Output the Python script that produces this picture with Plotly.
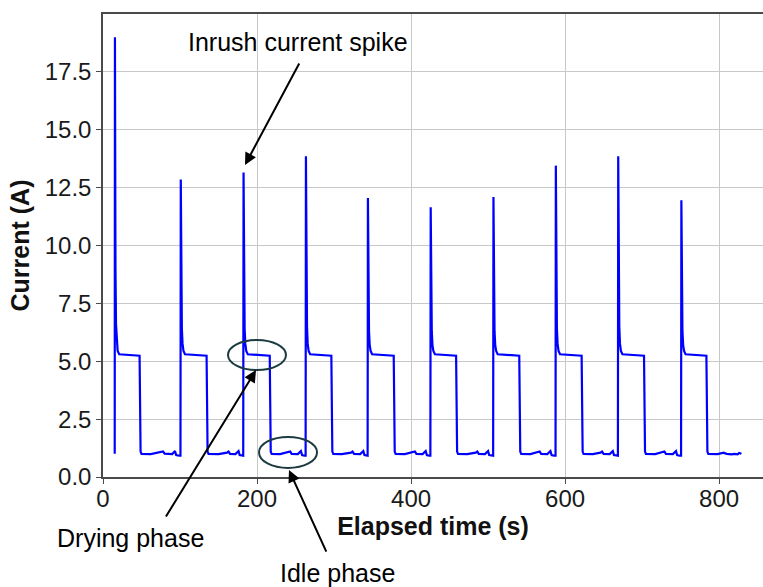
import plotly.graph_objects as go

# Data (time in s, current in A), one list per cycle
t_c1 = [15.2, 15.5, 16.2, 16.9, 17.8, 19.0, 21.0, 47.5, 48.8, 50.0, 62.0, 76.0, 78.0, 80.0, 90.0, 93.5, 95.0, 99.0, 100.6]
i_c1 = [1.0, 19.0, 9.0, 6.6, 5.8, 5.45, 5.3, 5.24, 1.1, 1.0, 0.99, 1.06, 1.1, 1.01, 0.99, 1.12, 0.95, 0.92, 0.92]
t_c2 = [101.0, 101.7, 102.4, 103.3, 104.5, 106.5, 134.5, 135.8, 137.0, 150.0, 161.0, 163.0, 165.0, 172.0, 176.0, 177.5, 180.5, 182.1]
i_c2 = [12.85, 8.4, 6.4, 5.75, 5.45, 5.3, 5.24, 1.1, 1.0, 0.99, 1.05, 1.1, 1.0, 0.99, 1.12, 0.95, 0.92, 0.92]
t_c3 = [182.5, 183.2, 183.9, 184.8, 186.0, 188.0, 216.5, 217.8, 219.0, 230.0, 241.0, 243.0, 245.0, 253.0, 257.0, 258.5, 261.5, 263.1]
i_c3 = [13.15, 8.5, 6.4, 5.75, 5.45, 5.3, 5.24, 1.1, 1.0, 0.99, 1.06, 1.1, 1.0, 0.99, 1.12, 0.95, 0.92, 0.92]
t_c4 = [263.5, 264.2, 264.9, 265.8, 267.0, 269.0, 296.5, 297.8, 299.0, 310.0, 322.0, 324.0, 326.0, 334.0, 338.0, 339.5, 342.5, 343.6]
i_c4 = [13.85, 8.7, 6.5, 5.75, 5.45, 5.3, 5.24, 1.1, 1.0, 0.99, 1.05, 1.1, 1.0, 0.99, 1.12, 0.95, 0.92, 0.92]
t_c5 = [344.0, 344.7, 345.4, 346.3, 347.5, 349.5, 377.5, 378.8, 380.0, 392.0, 403.0, 405.0, 407.0, 415.0, 419.0, 420.5, 423.5, 425.1]
i_c5 = [12.05, 8.2, 6.3, 5.7, 5.45, 5.3, 5.24, 1.1, 1.0, 0.99, 1.06, 1.1, 1.0, 0.99, 1.12, 0.95, 0.92, 0.92]
t_c6 = [425.5, 426.2, 426.9, 427.8, 429.0, 431.0, 458.5, 459.8, 461.0, 473.0, 484.0, 486.0, 488.0, 496.0, 500.0, 501.5, 504.5, 506.6]
i_c6 = [11.65, 8.0, 6.3, 5.7, 5.45, 5.3, 5.24, 1.1, 1.0, 0.99, 1.05, 1.1, 1.0, 0.99, 1.12, 0.95, 0.92, 0.92]
t_c7 = [507.0, 507.7, 508.4, 509.3, 510.5, 512.5, 540.5, 541.8, 543.0, 555.0, 565.0, 567.0, 569.0, 577.0, 581.0, 582.5, 585.5, 587.6]
i_c7 = [12.1, 8.2, 6.3, 5.7, 5.45, 5.3, 5.24, 1.1, 1.0, 0.99, 1.06, 1.1, 1.0, 0.99, 1.12, 0.95, 0.92, 0.92]
t_c8 = [588.0, 588.7, 589.4, 590.3, 591.5, 593.5, 621.5, 622.8, 624.0, 636.0, 646.0, 648.0, 650.0, 658.0, 662.0, 663.5, 666.5, 668.6]
i_c8 = [13.45, 8.6, 6.4, 5.75, 5.45, 5.3, 5.24, 1.1, 1.0, 0.99, 1.05, 1.1, 1.0, 0.99, 1.12, 0.95, 0.92, 0.92]
t_c9 = [669.0, 669.7, 670.4, 671.3, 672.5, 674.5, 702.5, 703.8, 705.0, 717.0, 727.0, 729.0, 731.0, 740.0, 744.0, 745.5, 748.5, 750.6]
i_c9 = [13.85, 8.7, 6.5, 5.75, 5.45, 5.3, 5.24, 1.1, 1.0, 0.99, 1.06, 1.1, 1.0, 0.99, 1.12, 0.95, 0.92, 0.92]
t_c10 = [751.0, 751.7, 752.4, 753.3, 754.5, 756.5, 783.5, 784.8, 786.0, 798.0, 806.0, 808.0, 810.0, 816.0, 820.0, 824.0, 826.0, 829.0]
i_c10 = [11.95, 8.1, 6.3, 5.7, 5.45, 5.3, 5.24, 1.1, 1.0, 0.99, 1.05, 1.02, 1.0, 0.98, 1.0, 0.98, 1.04, 1.0]

time_s = t_c1 + t_c2 + t_c3 + t_c4 + t_c5 + t_c6 + t_c7 + t_c8 + t_c9 + t_c10
current_a = i_c1 + i_c2 + i_c3 + i_c4 + i_c5 + i_c6 + i_c7 + i_c8 + i_c9 + i_c10

x_ticks = [0, 200, 400, 600, 800]
y_ticks = [0.0, 2.5, 5.0, 7.5, 10.0, 12.5, 15.0, 17.5]

FONT = "Liberation Sans, Arial, Helvetica, sans-serif"

fig = go.Figure()
fig.add_trace(go.Scatter(x=time_s, y=current_a, mode="lines",
                         line=dict(color="#0000ff", width=2.2), showlegend=False))

axis_common = dict(showgrid=True, gridcolor="#c8c8c8", gridwidth=1, zeroline=False,
                   showline=True, linecolor="#4a4a4a", linewidth=1.5,
                   ticks="outside", ticklen=5, tickcolor="#4a4a4a",
                   tickfont=dict(family=FONT, size=24, color="#1a1a1a"))

fig.update_xaxes(range=[0, 857], tickvals=x_ticks, mirror=True, ticklabelstandoff=-6,
                 title=dict(text="<b>Elapsed time (s)</b>", standoff=2,
                            font=dict(family=FONT, size=25, color="#111")),
                 **axis_common)
fig.update_yaxes(range=[0, 20], tickvals=y_ticks, tickformat=".1f",
                 title=dict(text="<b>Current (A)</b>", standoff=8,
                            font=dict(family=FONT, size=25, color="#111")),
                 **axis_common)

ell = dict(color="#1c3b40", width=2)
fig.add_shape(type="circle", xref="x", yref="y", x0=162.3, x1=237.6, y0=4.62, y1=5.92, line=ell)
fig.add_shape(type="circle", xref="x", yref="y", x0=202.6, x1=277.9, y0=0.39, y1=1.73, line=ell)

arrow = dict(showarrow=True, arrowhead=2, arrowsize=1.2, arrowwidth=2, arrowcolor="black", text="")
fig.add_annotation(x=184.4, y=13.48, xref="x", yref="y", ax=55, ay=-103, **arrow)
fig.add_annotation(x=198.7, y=4.62, xref="x", yref="y", ax=-91, ay=148, **arrow)
fig.add_annotation(x=241.5, y=0.30, xref="x", yref="y", ax=38, ay=83, **arrow)

txt_font = dict(family=FONT, size=25, color="black")
fig.add_annotation(text="Inrush current spike", xref="paper", yref="paper", x=0.2955, y=0.9395,
                   showarrow=False, font=txt_font, xanchor="center", yanchor="middle")
fig.add_annotation(text="Drying phase", xref="paper", yref="paper", x=0.0424, y=-0.1318,
                   showarrow=False, font=txt_font, xanchor="center", yanchor="middle")
fig.add_annotation(text="Idle phase", xref="paper", yref="paper", x=0.356, y=-0.2073,
                   showarrow=False, font=txt_font, xanchor="center", yanchor="middle")

fig.update_layout(width=763, height=587, margin=dict(l=103, r=0, t=14, b=110),
                  paper_bgcolor="white", plot_bgcolor="white",
                  font=dict(family=FONT))

fig.write_html("out.html")
